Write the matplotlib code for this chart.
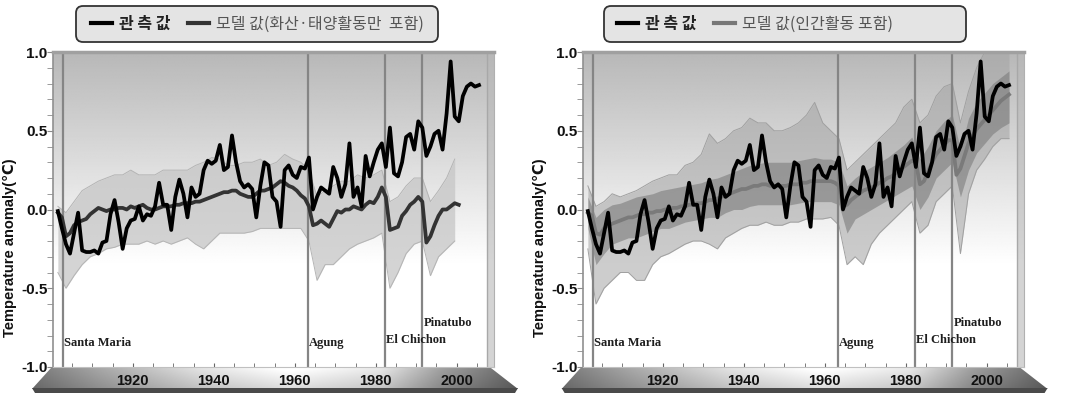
import matplotlib
matplotlib.use('Agg')
import matplotlib.pyplot as plt
import numpy as np
from matplotlib.patches import Polygon, FancyBboxPatch
from matplotlib.lines import Line2D
from matplotlib.ticker import MultipleLocator

########################################################################
            # Datos

anios_obs = np.arange(1901, 2006)
obs = [-0.01, -0.12, -0.22, -0.28, -0.15, -0.02, -0.26, -0.27, -0.27, -0.26,
       -0.28, -0.21, -0.20, -0.03, 0.06, -0.08, -0.25, -0.12, -0.07, -0.06,
       0.02, -0.07, -0.03, -0.04, 0.02, 0.17, 0.03, 0.03, -0.13, 0.08,
       0.19, 0.10, -0.05, 0.14, 0.08, 0.10, 0.25, 0.31, 0.29, 0.31,
       0.41, 0.25, 0.27, 0.47, 0.30, 0.18, 0.14, 0.16, 0.13, -0.05,
       0.15, 0.30, 0.28, 0.08, 0.05, -0.11, 0.25, 0.28, 0.22, 0.20,
       0.27, 0.26, 0.33, 0.00, 0.08, 0.14, 0.12, 0.10, 0.27, 0.20,
       0.08, 0.16, 0.42, 0.08, 0.14, 0.02, 0.34, 0.21, 0.30, 0.38,
       0.42, 0.27, 0.52, 0.23, 0.21, 0.30, 0.46, 0.48, 0.38, 0.56,
       0.52, 0.34, 0.40, 0.48, 0.50, 0.38, 0.61, 0.94, 0.59, 0.56,
       0.72, 0.78, 0.80, 0.78, 0.79]

anios_nat = np.arange(1901, 2001)
modelo_nat = [-0.02, -0.05, -0.17, -0.15, -0.10, -0.08, -0.07, -0.06, -0.03, -0.01,
              0.01, 0.00, -0.01, 0.00, 0.00, 0.01, 0.01, 0.00, 0.02, 0.01,
              0.02, 0.03, 0.01, 0.00, 0.00, 0.01, 0.02, 0.02, 0.02, 0.03,
              0.03, 0.04, 0.04, 0.04, 0.05, 0.05, 0.06, 0.07, 0.08, 0.09,
              0.10, 0.11, 0.11, 0.12, 0.12, 0.10, 0.09, 0.08, 0.08, 0.10,
              0.12, 0.12, 0.13, 0.14, 0.16, 0.18, 0.17, 0.15, 0.14, 0.12,
              0.09, 0.07, 0.02, -0.10, -0.09, -0.07, -0.09, -0.11, -0.06, -0.01,
              -0.02, 0.00, 0.00, 0.02, 0.01, 0.00, 0.03, 0.05, 0.04, 0.08,
              0.14, 0.08, -0.13, -0.12, -0.11, -0.04, -0.01, 0.03, 0.05, 0.08,
              0.05, -0.21, -0.17, -0.10, -0.04, 0.00, 0.00, 0.02, 0.04, 0.03]

anios_ant = np.arange(1901, 2006)
modelo_ant = [-0.02, -0.04, -0.15, -0.16, -0.12, -0.10, -0.09, -0.08, -0.07, -0.06,
              -0.05, -0.05, -0.04, -0.03, -0.03, -0.02, -0.02, -0.01, -0.01, 0.00,
              0.00, 0.01, 0.01, 0.02, 0.02, 0.03, 0.03, 0.04, 0.04, 0.05,
              0.06, 0.06, 0.07, 0.08, 0.09, 0.10, 0.11, 0.12, 0.13, 0.13,
              0.14, 0.15, 0.15, 0.16, 0.16, 0.15, 0.15, 0.15, 0.15, 0.15,
              0.16, 0.16, 0.16, 0.17, 0.17, 0.18, 0.18, 0.18, 0.18, 0.18,
              0.18, 0.17, 0.15, 0.02, 0.03, 0.06, 0.08, 0.10, 0.12, 0.13,
              0.14, 0.15, 0.17, 0.18, 0.20, 0.21, 0.23, 0.25, 0.27, 0.29,
              0.31, 0.30, 0.16, 0.18, 0.24, 0.30, 0.35, 0.38, 0.41, 0.44,
              0.44, 0.22, 0.26, 0.34, 0.42, 0.47, 0.51, 0.54, 0.57, 0.60,
              0.63, 0.66, 0.69, 0.71, 0.73]

# rango del conjunto de simulaciones (cada 2 anios)
anios_rango_nat = np.arange(1901, 2000, 2)
nat_inf = [-0.40, -0.50, -0.42, -0.35, -0.30, -0.28, -0.25, -0.24, -0.22, -0.22,
           -0.22, -0.20, -0.22, -0.20, -0.22, -0.20, -0.18, -0.22, -0.25, -0.20,
           -0.15, -0.15, -0.15, -0.15, -0.14, -0.12, -0.12, -0.12, -0.12, -0.12,
           -0.12, -0.20, -0.45, -0.35, -0.35, -0.30, -0.25, -0.22, -0.20, -0.18,
           -0.15, -0.50, -0.40, -0.28, -0.22, -0.20, -0.42, -0.30, -0.25, -0.20]
nat_sup = [0.02, -0.02, 0.05, 0.12, 0.15, 0.18, 0.20, 0.22, 0.22, 0.25,
           0.22, 0.22, 0.22, 0.25, 0.25, 0.25, 0.25, 0.28, 0.30, 0.33,
           0.32, 0.28, 0.28, 0.30, 0.30, 0.32, 0.28, 0.30, 0.35, 0.32,
           0.30, 0.25, 0.08, 0.12, 0.15, 0.18, 0.18, 0.22, 0.20, 0.22,
           0.25, 0.05, 0.08, 0.15, 0.20, 0.20, 0.05, 0.12, 0.20, 0.32]

anios_rango_ant = np.arange(1901, 2006, 2)
ant_inf = [-0.25, -0.60, -0.50, -0.45, -0.40, -0.40, -0.45, -0.45, -0.35, -0.30,
           -0.28, -0.25, -0.22, -0.20, -0.20, -0.22, -0.25, -0.18, -0.15, -0.12,
           -0.10, -0.10, -0.08, -0.10, -0.10, -0.08, -0.08, -0.06, -0.06, -0.06,
           -0.05, -0.10, -0.35, -0.30, -0.35, -0.22, -0.15, -0.10, -0.05, 0.00,
           0.05, -0.15, -0.10, 0.05, 0.10, 0.15, -0.28, 0.10, 0.25, 0.32,
           0.40, 0.45, 0.45]
ant_sup = [0.15, 0.02, 0.05, 0.10, 0.08, 0.10, 0.12, 0.15, 0.18, 0.20,
           0.22, 0.22, 0.28, 0.30, 0.35, 0.48, 0.42, 0.45, 0.50, 0.52,
           0.58, 0.55, 0.55, 0.50, 0.50, 0.52, 0.55, 0.60, 0.68, 0.55,
           0.50, 0.45, 0.25, 0.30, 0.35, 0.40, 0.45, 0.50, 0.55, 0.65,
           0.70, 0.55, 0.60, 0.72, 0.78, 0.80, 0.55, 0.75, 0.90, 1.00,
           1.00, 1.00, 1.00]
# zona donde se concentran la mayoria de las simulaciones
ant_nucleo_inf = [-0.12, -0.35, -0.28, -0.22, -0.20, -0.18, -0.18, -0.16, -0.14, -0.12,
                  -0.12, -0.10, -0.08, -0.07, -0.06, -0.05, -0.05, -0.02, 0.00, 0.00,
                  0.02, 0.03, 0.03, 0.03, 0.03, 0.03, 0.04, 0.05, 0.05, 0.05,
                  0.05, 0.03, -0.15, -0.06, -0.03, 0.00, 0.03, 0.06, 0.09, 0.12,
                  0.15, 0.00, 0.08, 0.20, 0.25, 0.30, 0.08, 0.25, 0.36, 0.42,
                  0.48, 0.52, 0.55]
ant_nucleo_sup = [0.08, -0.05, 0.00, 0.03, 0.04, 0.06, 0.08, 0.09, 0.10, 0.12,
                  0.13, 0.14, 0.15, 0.16, 0.17, 0.19, 0.20, 0.22, 0.24, 0.26,
                  0.28, 0.29, 0.30, 0.30, 0.30, 0.30, 0.31, 0.32, 0.33, 0.32,
                  0.32, 0.30, 0.15, 0.20, 0.24, 0.27, 0.30, 0.33, 0.37, 0.41,
                  0.46, 0.32, 0.40, 0.50, 0.56, 0.60, 0.38, 0.58, 0.68, 0.74,
                  0.80, 0.84, 0.88]

volcanes = ['Santa Maria', 'Agung', 'El Chichon', 'Pinatubo']
anios_volcanes = [1902.8, 1963.2, 1982.3, 1991.45]
altura_volcanes = [-0.85, -0.85, -0.83, -0.72]

ticks_x = [1920, 1940, 1960, 1980, 2000]
ticks_y = [-1.0, -0.5, 0.0, 0.5, 1.0]
etiquetas_y = ['-1.0', '-0.5', '0.0', '0.5', '1.0']

etiqueta_obs = '관 측 값'
etiqueta_nat = '모델 값(화산·태양활동만  포함)'
etiqueta_ant = '모델 값(인간활동 포함)'

FUENTE_KR = ['Noto Sans CJK KR', 'DejaVu Sans']
FUENTE_EJE = ['Liberation Sans', 'DejaVu Sans']

########################################################################
            # Fondo en degradado y cinta del eje x

def fondo_degradado(ax):
    yy = np.linspace(1, -1, 300)
    g = np.clip(0.72 + 0.28 * (1 - yy) / 1.35, 0, 1)
    img = np.repeat(g[:, None], 2, axis=1)
    ax.imshow(img, cmap='gray', vmin=0, vmax=1, aspect='auto',
              extent=[1900.3, 2009.2, -1, 1], interpolation='bilinear', zorder=0)
    ax.axvspan(2007.4, 2009.2, color='#b8b8b8', alpha=0.6, lw=0, zorder=0.5)
    ax.axvline(2007.4, color='#a8a8a8', lw=1, zorder=0.6)


def dibujar_cinta(ov, dx):
    xs = np.array([51, 491, 518, 32]) + dx
    ys = [368, 368, 389, 389]
    poly = Polygon(np.c_[xs, ys], closed=True, facecolor='none', edgecolor='none')
    ov.add_patch(poly)
    perfil_x = np.array([32, 100, 200, 290, 380, 440, 518]) + dx
    perfil_g = [0.45, 0.62, 0.84, 0.96, 0.86, 0.60, 0.38]
    xx = np.linspace(32 + dx, 518 + dx, 400)
    g = np.interp(xx, perfil_x, perfil_g)
    v = np.linspace(1.06, 0.90, 30)
    img = np.clip(g[None, :] * v[:, None], 0, 1)
    im = ov.imshow(img, cmap='gray', vmin=0, vmax=1, aspect='auto',
                   extent=[32 + dx, 518 + dx, 389, 368], interpolation='bilinear')
    im.set_clip_path(poly)
    ov.add_patch(Polygon([(32 + dx, 388), (518 + dx, 388), (515 + dx, 393), (35 + dx, 393)],
                         closed=True, facecolor='#4a4a4a', edgecolor='none'))

########################################################################
            # Panel

def dibujar_panel(ax, anios_rango, r_inf, r_sup, color_rango, alfa_rango, color_borde,
                  anios_mod, modelo, color_mod, nucleo=None):
    fondo_degradado(ax)
    xr = anios_rango + 0.5
    ax.fill_between(xr, r_inf, r_sup, color=color_rango, alpha=alfa_rango, lw=0, zorder=1)
    ax.plot(xr, r_inf, color=color_borde, lw=0.7, zorder=1.2)
    ax.plot(xr, r_sup, color=color_borde, lw=0.7, zorder=1.2)
    if nucleo is not None:
        ax.fill_between(xr, nucleo[0], nucleo[1], color='#7c7c7c', alpha=0.6, lw=0, zorder=1.3)

    for anio, nombre, h in zip(anios_volcanes, volcanes, altura_volcanes):
        ax.axvline(anio, color='#858585', lw=1.6, zorder=2)
        ax.text(anio + 0.3, h, nombre, fontsize=9, fontweight='bold',
                family='Liberation Serif', color='#1e1e1e', va='center', ha='left', zorder=5)

    ax.plot(anios_mod + 0.5, modelo, color=color_mod, lw=2.7, zorder=3,
            solid_joinstyle='round')
    ax.plot(anios_obs + 0.5, obs, color='black', lw=2.7, zorder=4,
            solid_joinstyle='round')

    ax.set_xlim(1900.3, 2009.2)
    ax.set_ylim(-1, 1)
    ax.set_facecolor('none')
    ax.set_xticks(ticks_x)
    ax.set_xticklabels([str(t) for t in ticks_x], fontsize=10.5, fontweight='bold',
                       family=FUENTE_EJE, color='#111111')
    ax.set_yticks(ticks_y)
    ax.set_yticklabels(etiquetas_y, fontsize=11, fontweight='bold',
                       family=FUENTE_EJE, color='#111111')
    ax.xaxis.set_minor_locator(MultipleLocator(5))
    ax.yaxis.set_minor_locator(MultipleLocator(0.1))
    ax.tick_params(axis='x', which='both', direction='in', length=3, color='#666666', pad=5)
    ax.tick_params(axis='y', which='both', direction='out', length=4, color='#8a8a8a', pad=0)
    ax.spines['top'].set_color('#a0a0a0')
    ax.spines['top'].set_linewidth(2.5)
    ax.spines['left'].set_color('#909090')
    ax.spines['left'].set_linewidth(1.2)
    ax.spines['right'].set_color('#b0b0b0')
    ax.spines['bottom'].set_color('#c0c0c0')
    ax.text(-0.097, 0.378, 'Temperature anomaly(℃)', transform=ax.transAxes,
            rotation=90, ha='center', va='center', fontsize=10.5, fontweight='bold',
            family=FUENTE_EJE, color='#111111')


def dibujar_leyenda(fig, ov, x_caja, x_inicio, etiqueta_mod, color_mod):
    # caja redondeada de ancho fijo, como en el original
    ov.add_patch(FancyBboxPatch((x_caja, 6), 362, 36,
                                boxstyle='round,pad=0,rounding_size=7',
                                facecolor='#e4e4e4', edgecolor='#333333', lw=1.3))
    manijas = [Line2D([], [], color='black', lw=3),
               Line2D([], [], color=color_mod, lw=3)]
    ley = fig.legend(manijas, [etiqueta_obs, etiqueta_mod], ncol=2,
                     loc='center left', bbox_to_anchor=(x_inicio / 1068, 0.939),
                     prop={'family': FUENTE_KR, 'size': 11.5},
                     handlelength=1.3, handletextpad=0.45, columnspacing=1.1,
                     borderpad=0, borderaxespad=0, frameon=False)
    textos = ley.get_texts()
    textos[0].set_fontweight('bold')
    textos[0].set_color('#222222')
    textos[1].set_color('#555555')
    return ley

########################################################################

fig = plt.figure(figsize=(10.68, 3.93), dpi=100)

ov = fig.add_axes([0, 0, 1, 1], zorder=0)
dibujar_cinta(ov, 0)
dibujar_cinta(ov, 529.6)

ax1 = fig.add_axes([53 / 1068, 26 / 393, 441 / 1068, 315 / 393], zorder=1)
ax2 = fig.add_axes([583 / 1068, 26 / 393, 441 / 1068, 315 / 393], zorder=1)

dibujar_panel(ax1, anios_rango_nat, nat_inf, nat_sup, '#c6c6c6', 0.75, '#b4b4b4',
              anios_nat, modelo_nat, '#333333')
dibujar_panel(ax2, anios_rango_ant, ant_inf, ant_sup, '#a4a4a4', 0.55, '#a0a0a0',
              anios_ant, modelo_ant, '#7a7a7a', nucleo=(ant_nucleo_inf, ant_nucleo_sup))

dibujar_leyenda(fig, ov, 76, 91, etiqueta_nat, '#333333')
dibujar_leyenda(fig, ov, 604, 617, etiqueta_ant, '#777777')

ov.set_xlim(0, 1068)
ov.set_ylim(393, 0)
ov.axis('off')

fig.savefig('out.png', dpi=100)
plt.close('all')
